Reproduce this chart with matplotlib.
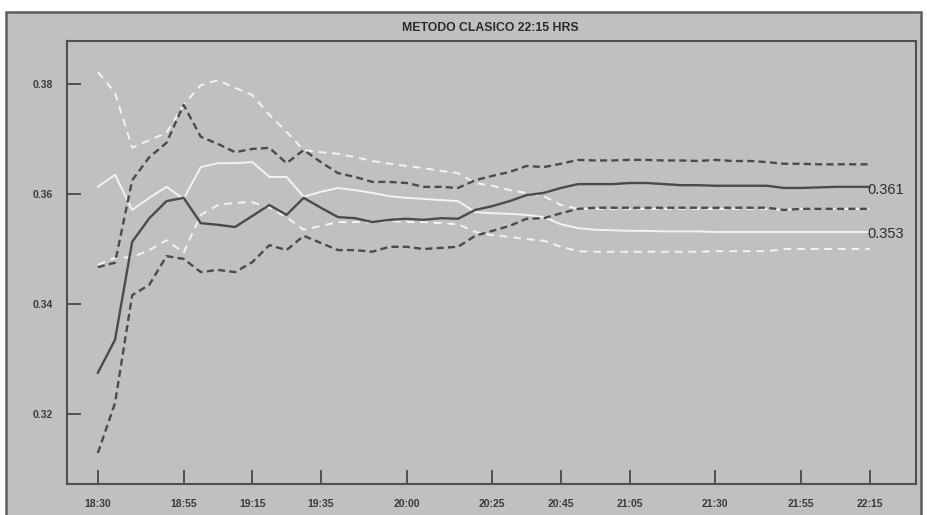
import numpy as np
import matplotlib
matplotlib.use("Agg")
import matplotlib.pyplot as plt
from matplotlib.patches import Rectangle

# ---- data (minutes after 18:30, every 5 minutes) ----
minutes = np.arange(0, 230, 5)

dark_mid = [0.3275, 0.3335, 0.3513, 0.3556, 0.3587, 0.3593, 0.3547, 0.3544, 0.3540, 0.3560,
            0.3580, 0.3562, 0.3593, 0.3575, 0.3558, 0.3556, 0.3549, 0.3553, 0.3555, 0.3553,
            0.3556, 0.3555, 0.3571, 0.3578, 0.3587, 0.3598, 0.3602, 0.3611, 0.3618, 0.3618,
            0.3618, 0.3620, 0.3620, 0.3618, 0.3616, 0.3616, 0.3615, 0.3615, 0.3615, 0.3615,
            0.3611, 0.3611, 0.3612, 0.3613, 0.3613, 0.3613]
dark_up = [0.3467, 0.3475, 0.3625, 0.3667, 0.3693, 0.3762, 0.3704, 0.3691, 0.3676, 0.3682,
           0.3684, 0.3656, 0.3680, 0.3658, 0.3638, 0.3631, 0.3622, 0.3622, 0.3620, 0.3613,
           0.3613, 0.3611, 0.3625, 0.3633, 0.3640, 0.3651, 0.3649, 0.3655, 0.3662, 0.3661,
           0.3661, 0.3662, 0.3662, 0.3661, 0.3661, 0.3660, 0.3662, 0.3660, 0.3660, 0.3658,
           0.3655, 0.3655, 0.3654, 0.3654, 0.3654, 0.3654]
dark_lo = [0.3129, 0.3220, 0.3416, 0.3435, 0.3487, 0.3482, 0.3458, 0.3462, 0.3458, 0.3476,
           0.3507, 0.3498, 0.3524, 0.3511, 0.3498, 0.3498, 0.3495, 0.3504, 0.3504, 0.3500,
           0.3502, 0.3504, 0.3524, 0.3533, 0.3542, 0.3555, 0.3556, 0.3565, 0.3573, 0.3575,
           0.3575, 0.3575, 0.3575, 0.3575, 0.3575, 0.3575, 0.3575, 0.3575, 0.3575, 0.3575,
           0.3571, 0.3573, 0.3573, 0.3573, 0.3573, 0.3573]
white_mid = [0.3613, 0.3635, 0.3571, 0.3593, 0.3613, 0.3591, 0.3649, 0.3656, 0.3656, 0.3658,
             0.3631, 0.3631, 0.3595, 0.3604, 0.3611, 0.3607, 0.3602, 0.3596, 0.3593, 0.3591,
             0.3589, 0.3587, 0.3567, 0.3565, 0.3564, 0.3562, 0.3558, 0.3545, 0.3538, 0.3535,
             0.3534, 0.3533, 0.3533, 0.3532, 0.3532, 0.3532, 0.3531, 0.3531, 0.3531, 0.3531,
             0.3531, 0.3531, 0.3531, 0.3531, 0.3531, 0.3531]
white_up = [0.3822, 0.3784, 0.3684, 0.3698, 0.3711, 0.3762, 0.3798, 0.3807, 0.3793, 0.3780,
            0.3744, 0.3713, 0.3680, 0.3676, 0.3673, 0.3667, 0.3660, 0.3655, 0.3651, 0.3647,
            0.3642, 0.3638, 0.3620, 0.3615, 0.3607, 0.3602, 0.3596, 0.3580, 0.3573, 0.3573,
            0.3573, 0.3573, 0.3573, 0.3573, 0.3573, 0.3573, 0.3573, 0.3573, 0.3573, 0.3573,
            0.3571, 0.3573, 0.3573, 0.3573, 0.3573, 0.3573]
white_lo = [0.3471, 0.3484, 0.3485, 0.3498, 0.3516, 0.3493, 0.3562, 0.3580, 0.3584, 0.3585,
            0.3575, 0.3558, 0.3535, 0.3542, 0.3549, 0.3549, 0.3549, 0.3551, 0.3549, 0.3549,
            0.3547, 0.3545, 0.3531, 0.3525, 0.3522, 0.3518, 0.3515, 0.3504, 0.3496, 0.3495,
            0.3495, 0.3495, 0.3495, 0.3495, 0.3495, 0.3495, 0.3496, 0.3496, 0.3496, 0.3496,
            0.3500, 0.3500, 0.3500, 0.3500, 0.3500, 0.3500]

tick_minutes = [0, 25, 45, 65, 90, 115, 135, 155, 180, 205, 225]
tick_labels = ["18:30", "18:55", "19:15", "19:35", "20:00", "20:25",
               "20:45", "21:05", "21:30", "21:55", "22:15"]
y_ticks = [0.32, 0.34, 0.36, 0.38]
y_tick_labels = ["0.32", "0.34", "0.36", "0.38"]
title = "METODO CLASICO 22:15 HRS"
end_labels = ["0.361", "0.353"]

# ---- style ----
W, H = 928, 515
BG = "#bfc0c2"
DARK = "#4b4b4d"
LIGHT = "#f3f3f3"
FRAME = "#505052"
sans = ["Liberation Sans", "DejaVu Sans"]

fig = plt.figure(figsize=(W / 100, H / 100), dpi=100, facecolor="white")

# outer gray panel (background axes)
bg = fig.add_axes([0, 0, 1, 1], zorder=-5)
bg.set_xlim(0, W)
bg.set_ylim(H, 0)
bg.axis("off")
bg.add_patch(Rectangle((6, 12), 915, 520, facecolor=BG, edgecolor="#5e5e60",
                       linewidth=1.8))

ax = fig.add_axes([67 / W, (H - 484) / H, (916 - 67) / W, (484 - 41) / H], zorder=1)
ax.set_facecolor(BG)

ax.plot(minutes, white_up, color=LIGHT, lw=1.4, dashes=(4, 3), zorder=2)
ax.plot(minutes, white_lo, color=LIGHT, lw=1.4, dashes=(4, 3), zorder=2)
ax.plot(minutes, white_mid, color=LIGHT, lw=1.4, zorder=2)
ax.plot(minutes, dark_up, color=DARK, lw=1.7, dashes=(3.0, 1.8), zorder=3)
ax.plot(minutes, dark_lo, color=DARK, lw=1.7, dashes=(3.0, 1.8), zorder=3)
ax.plot(minutes, dark_mid, color=DARK, lw=1.7, zorder=4)

ax.text(minutes[-1] - 0.8, dark_mid[-1] - 0.0006, end_labels[0], ha="left", va="center",
        fontsize=10.5, color="#2e2e30", family=sans)
ax.text(minutes[-1] - 0.8, white_mid[-1] - 0.0004, end_labels[1], ha="left", va="center",
        fontsize=10.5, color="#2e2e30", family=sans)

ax.set_xlim(-9.0, 238.5)
ax.set_ylim(0.30727, 0.38782)
ax.set_xticks(tick_minutes)
ax.set_xticklabels(tick_labels, family=sans, fontsize=7.5, fontweight="bold",
                   color="#3a3a3c")
ax.set_yticks(y_ticks)
ax.set_yticklabels(y_tick_labels, family=sans, fontsize=7.5, fontweight="bold",
                   color="#3a3a3c")
ax.tick_params(axis="both", direction="in", length=10, width=1.4, color=FRAME)
ax.tick_params(axis="x", pad=11)
ax.tick_params(axis="y", pad=10)
for s in ax.spines.values():
    s.set_color(FRAME)
    s.set_linewidth(1.5)

fig.text(490 / W, 1 - 28 / H, title, ha="center", va="center", fontsize=8.8,
         fontweight="bold", family=sans, color="#2a2a2c")

fig.savefig("out.png", dpi=100, facecolor="white")
